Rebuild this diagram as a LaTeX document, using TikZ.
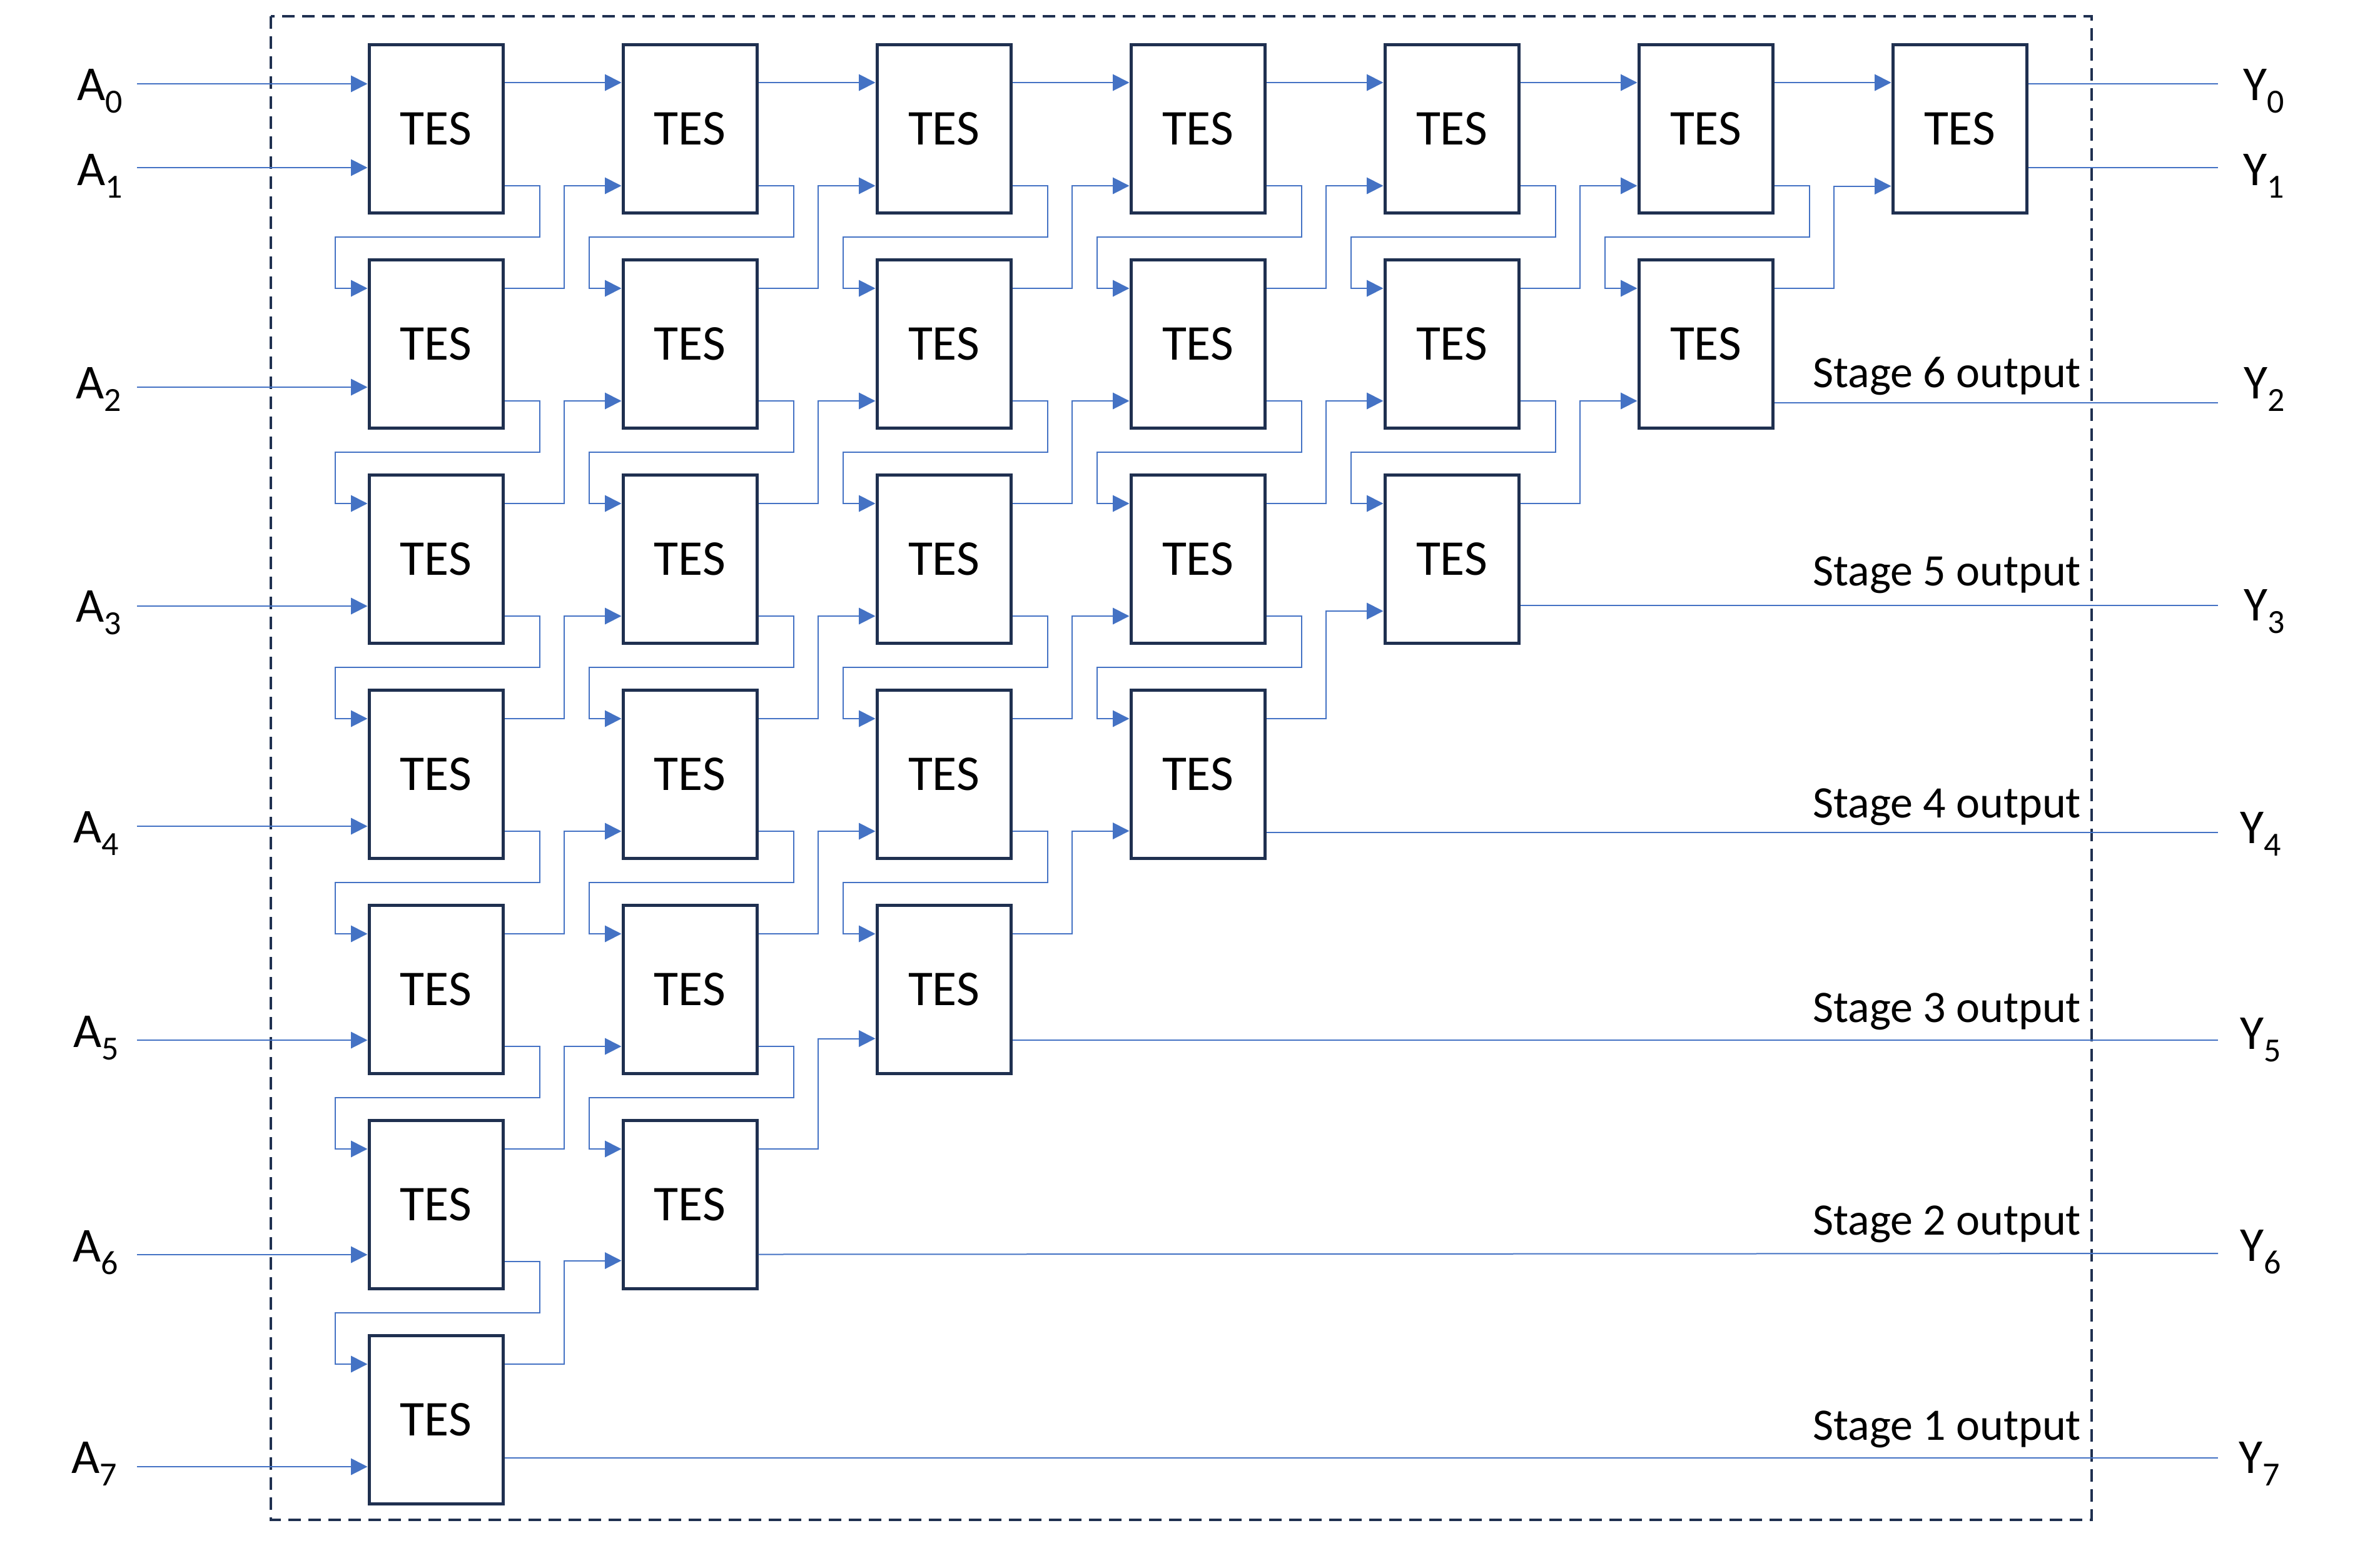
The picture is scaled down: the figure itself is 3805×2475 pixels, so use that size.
\documentclass[tikz,border=0pt]{standalone}
\usepackage{fontspec}
\setmainfont{Carlito}
\usetikzlibrary{arrows.meta,calc}
\definecolor{navy}{HTML}{1F3050}
\definecolor{wireblue}{HTML}{4472C4}
\newcommand\subsc[1]{\raisebox{-5.2pt}{\fontsize{13.5}{14}\selectfont #1}}
\begin{document}
\begin{tikzpicture}[x=0.25pt,y=-0.25pt,
  tes/.style={draw=navy,line width=1.25pt,minimum width=53.5pt,minimum height=67.25pt,inner sep=0pt,fill=white,font=\fontsize{20}{24}\selectfont},
  wire/.style={draw=wireblue,line width=0.5pt},
  arr/.style={wire,-{Triangle[length=6.6pt,width=6.6pt]}},
  lab/.style={anchor=base west,inner sep=0pt,font=\fontsize{19.5}{22}\selectfont},
  stg/.style={anchor=base east,inner sep=0pt,font=\fontsize{18}{21}\selectfont},
  frame/.style={draw=navy,line width=1pt,dash pattern=on 5pt off 3pt}]
\fill[white] (0,0) rectangle (3805,2475);
\useasboundingbox (0,0) rectangle (3805,2475);

% dashed enclosure
\draw[frame] (433,26) rectangle (3344,2430);

% TES boxes
\foreach \c in {0,...,6}{
  \pgfmathtruncatemacro\rmax{6-\c}
  \foreach \r in {0,...,\rmax}{
    \node[tes] (t\r\c) at ({697+406*\c},{206+344*\r}) {TES};
  }
}

% row 0 straight links
\foreach \c in {0,...,5}{
  \pgfmathtruncatemacro\n{\c+1}
  \draw[arr] ($(t0\c.north east)+(0,63)$) -- ($(t0\n.north west)+(0,63)$);
}

% loops: lower output -> upper input of the box below (same column)
\foreach \c in {0,...,5}{
  \pgfmathtruncatemacro\rmax{5-\c}
  \foreach \r in {0,...,\rmax}{
    \pgfmathtruncatemacro\rn{\r+1}
    \draw[arr] ($(t\r\c.north east)+(0,228)$) -- ++(56,0)
      |- ($(t\rn\c.north west)+(-52,-34)$) |- ($(t\rn\c.north west)+(0,48)$);
  }
}

% crosses: upper output -> lower input of the box up-right
\foreach \c in {0,...,5}{
  \pgfmathtruncatemacro\rmax{6-\c}
  \pgfmathtruncatemacro\cn{\c+1}
  \foreach \r in {1,...,\rmax}{
    \pgfmathtruncatemacro\rp{\r-1}
    \pgfmathtruncatemacro\rb{5-\c}
    \ifnum\rp=\rb
      \pgfmathsetmacro\off{{226.5,215.5,227.5,220,228,228.5}[\c]}
    \else
      \def\off{228}
    \fi
    \draw[arr] ($(t\r\c.north east)+(0,48)$) -- ++(95,0) |- ($(t\rp\cn.north west)+(0,\off)$);
  }
}

% inputs
\coordinate (a0) at (219,134);
\coordinate (a1) at (219,268);
\draw[arr] (a0) -- (a0 -| t00.west);
\draw[arr] (a1) -- (a1 -| t00.west);
\foreach \k/\y in {2/619,3/969,4/1321,5/1663,6/2006,7/2345}{
  \pgfmathtruncatemacro\r{\k-1}
  \coordinate (a\k) at (219,\y);
  \draw[arr] (a\k) -- (a\k -| t\r0.west);
}
\node[lab] (la0) at (122.7,160) {A\subsc{0}};
\node[lab] (la1) at (122.7,296) {A\subsc{1}};
\node[lab] (la2) at (121,637) {A\subsc{2}};
\node[lab] (la3) at (121,994) {A\subsc{3}};
\node[lab] (la4) at (117,1347) {A\subsc{4}};
\node[lab] (la5) at (117,1674) {A\subsc{5}};
\node[lab] (la6) at (116,2017) {A\subsc{6}};
\node[lab] (la7) at (114,2355) {A\subsc{7}};

% outputs
\coordinate (y0) at (3546,134);
\coordinate (y1) at (3546,268);
\coordinate (y2) at (3546,644);
\coordinate (y3) at (3546,968);
\coordinate (y4) at (3546,1331);
\coordinate (y5) at (3546,1663);
\coordinate (y6) at (3546,2004);
\coordinate (y7) at (3546,2331);
\draw[wire] (t06.east |- y0) -- (y0);
\draw[wire] (t06.east |- y1) -- (y1);
\draw[wire] (t15.east |- y2) -- (y2);
\draw[wire] (t24.east |- y3) -- (y3);
\draw[wire] (t33.east |- y4) -- (y4);
\draw[wire] (t42.east |- y5) -- (y5);
\draw[wire] ($(t51.north east)+(0,216.5)$) -- (y6);
\draw[wire] (t60.east |- y7) -- (y7);

\node[lab] (ly0) at (3586,160) {Y\subsc{0}};
\node[lab] (ly1) at (3586,296) {Y\subsc{1}};
\node[lab] (ly2) at (3587,637) {Y\subsc{2}};
\node[lab] (ly3) at (3587,992) {Y\subsc{3}};
\node[lab] (ly4) at (3581,1348) {Y\subsc{4}};
\node[lab] (ly5) at (3581,1677) {Y\subsc{5}};
\node[lab] (ly6) at (3581,2016) {Y\subsc{6}};
\node[lab] (ly7) at (3579,2355) {Y\subsc{7}};

% stage labels
\node[stg] (s6) at (3328,619) {Stage 6 output};
\node[stg] (s5) at (3328,936) {Stage 5 output};
\node[stg] (s4) at (3328,1307) {Stage 4 output};
\node[stg] (s3) at (3328,1634) {Stage 3 output};
\node[stg] (s2) at (3328,1974) {Stage 2 output};
\node[stg] (s1) at (3328,2302) {Stage 1 output};
\end{tikzpicture}
\end{document}
